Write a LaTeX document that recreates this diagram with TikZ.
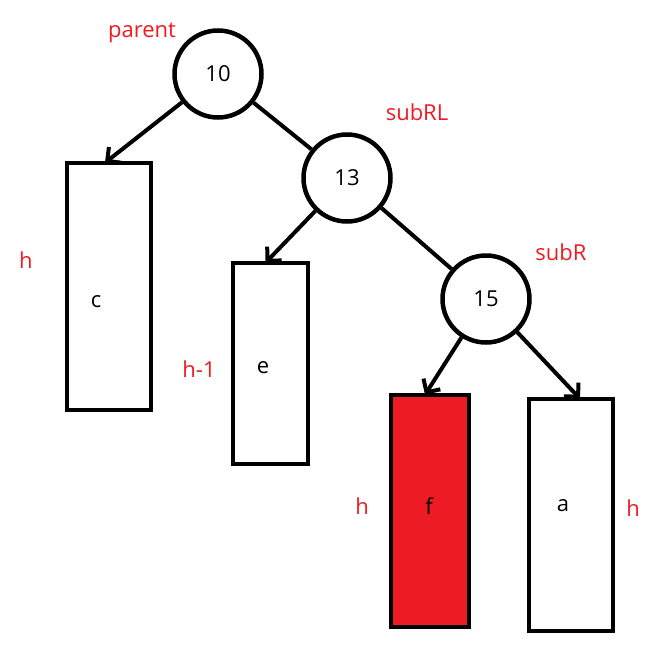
\documentclass[tikz,border=0pt]{standalone}
\usepackage{fontspec}
\setmainfont{Open Sans}
\usetikzlibrary{arrows.meta}
\definecolor{pred}{RGB}{237,28,36}
\begin{document}
\begin{tikzpicture}[x=1pt,y=-1pt,
  keynode/.style={circle,draw=black,line width=4.5pt,minimum size=87pt,inner sep=0pt,font=\fontsize{22}{26}\selectfont},
  boxnode/.style={draw=black,line width=4.5pt,inner sep=0pt},
  lbl/.style={text=pred,font=\fontsize{22}{26}\selectfont,inner sep=0pt},
  inlbl/.style={text=black,font=\fontsize{22}{26}\selectfont,inner sep=0pt},
  edge/.style={line width=4pt},
  arr/.style={line width=4pt,-{Straight Barb[length=10pt,width=20pt]}}
]
\useasboundingbox (0,0) rectangle (655,653);
\fill[white] (0,0) rectangle (655,653);

% key nodes
\node[keynode] (n10) at (218,74) {10};
\node[keynode] (n13) at (347,178) {13};
\node[keynode] (n15) at (486,299) {15};

% subtree boxes
\node[boxnode,minimum width=84pt,minimum height=247pt] (c) at (109,286.5) {};
\node[boxnode,minimum width=75pt,minimum height=201pt] (e) at (270.5,363.5) {};
\node[boxnode,fill=pred,minimum width=78pt,minimum height=232pt] (f) at (430,511) {};
\node[boxnode,minimum width=84pt,minimum height=232pt] (a) at (571,515) {};

% texts inside boxes
\node[inlbl] (tc) at (96,302) {c};
\node[inlbl] (te) at (263,368) {e};
\node[inlbl] (tf) at (429,506) {f};
\node[inlbl] (ta) at (563,506) {a};

% red labels
\node[lbl] (lparent) at (142,33) {parent};
\node[lbl] (lsubRL) at (417,112) {subRL};
\node[lbl] (lsubR) at (561,252) {subR};
\node[lbl] (lh1) at (26,260) {h};
\node[lbl] (lhm) at (199,369) {h-1};
\node[lbl] (lh2) at (362,506) {h};
\node[lbl] (lh3) at (633,508) {h};

% connectors
\draw[arr] (n10) -- ([xshift=-4pt,yshift=-2pt]c.north);
\draw[edge] (n10) -- (n13);
\draw[arr] (n13) -- ([xshift=-5pt,yshift=-2pt]e.north);
\draw[edge] (n13) -- (n15);
\draw[arr] (n15) -- ([xshift=-5pt,yshift=-2pt]f.north);
\draw[arr] (n15) -- ([xshift=9pt,yshift=-2pt]a.north);
\end{tikzpicture}
\end{document}
